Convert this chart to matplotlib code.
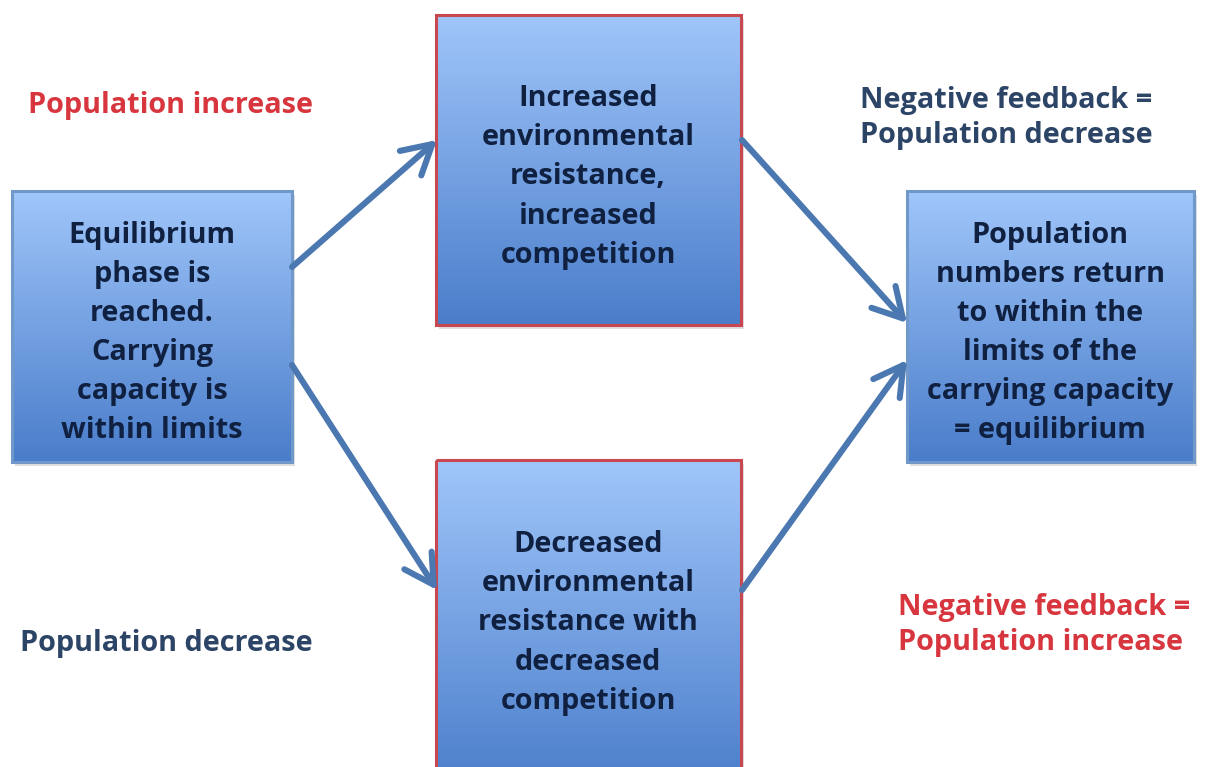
import numpy as np
import matplotlib.pyplot as plt
from matplotlib.patches import Rectangle

# box texts
box_texts = [
    "Equilibrium\nphase is\nreached.\nCarrying\ncapacity is\nwithin limits",
    "Increased\nenvironmental\nresistance,\nincreased\ncompetition",
    "Decreased\nenvironmental\nresistance with\ndecreased\ncompetition",
    "Population\nnumbers return\nto within the\nlimits of the\ncarrying capacity\n= equilibrium",
]
# side labels
label_texts = [
    "Population increase",
    "Negative feedback =\nPopulation decrease",
    "Population decrease",
    "Negative feedback =\nPopulation increase",
]
label_colors = ["#d8363e", "#2c4466", "#2c4466", "#d8363e"]

# layout in pixels (x0, y0, x1, y1), edge colour
boxes = [
    (12, 191, 292, 462, "#7098c8"),
    (436, 15, 741, 325, "#c9474e"),
    (436, 460, 741, 790, "#c9474e"),
    (907, 191, 1194, 462, "#7098c8"),
]
text_centers = [(152, 333), (588, 177), (588, 623), (1050, 333)]
label_pos = [(28, 106, "left"), (860, 118, "left"), (20, 643, "left"), (898, 625, "left")]
arrows = [
    ((292, 267), (437, 140)),
    ((292, 365), (437, 590)),
    ((742, 140), (907, 323)),
    ((742, 590), (907, 360)),
]

plt.rcParams['font.family'] = ['Open Sans', 'DejaVu Sans']

fig = plt.figure(figsize=(12.05, 7.67), dpi=100)
ax = fig.add_axes([0, 0, 1, 1])

top = np.array([160, 198, 250]) / 255
bot = np.array([74, 125, 202]) / 255
t = np.linspace(0, 1, 200)[:, None]
grad = (top[None, :] * (1 - t) + bot[None, :] * t)[:, None, :]

for (x0, y0, x1, y1, ec), txt, (cx, cy) in zip(boxes, box_texts, text_centers):
    # soft shadow
    ax.add_patch(Rectangle((x0 + 3, y0 + 4), x1 - x0, y1 - y0, fc="#c8c8c8", ec="none", alpha=0.6, zorder=1))
    ax.imshow(grad, extent=(x0, x1, y1, y0), origin="upper", aspect="auto", zorder=2)
    ax.add_patch(Rectangle((x0, y0), x1 - x0, y1 - y0, fc="none", ec=ec, lw=2.2, zorder=3))
    ax.text(cx, cy, txt, ha="center", va="center", fontsize=20.8, fontweight="bold",
            color="#0f2040", linespacing=1.46, zorder=4)

for (x, y, ha), txt, c in zip(label_pos, label_texts, label_colors):
    ax.text(x, y, txt, ha=ha, va="center", fontsize=20.8, fontweight="bold",
            color=c, linespacing=1.3)

for start, end in arrows:
    ax.annotate("", xy=end, xytext=start,
                arrowprops=dict(arrowstyle="->,head_length=0.8,head_width=0.45",
                                mutation_scale=26, lw=4.4, color="#4b78b0",
                                shrinkA=0, shrinkB=0), zorder=5)

ax.set_xlim(0, 1205)
ax.set_ylim(767, 0)
ax.axis("off")
fig.savefig("out.png", dpi=100)
